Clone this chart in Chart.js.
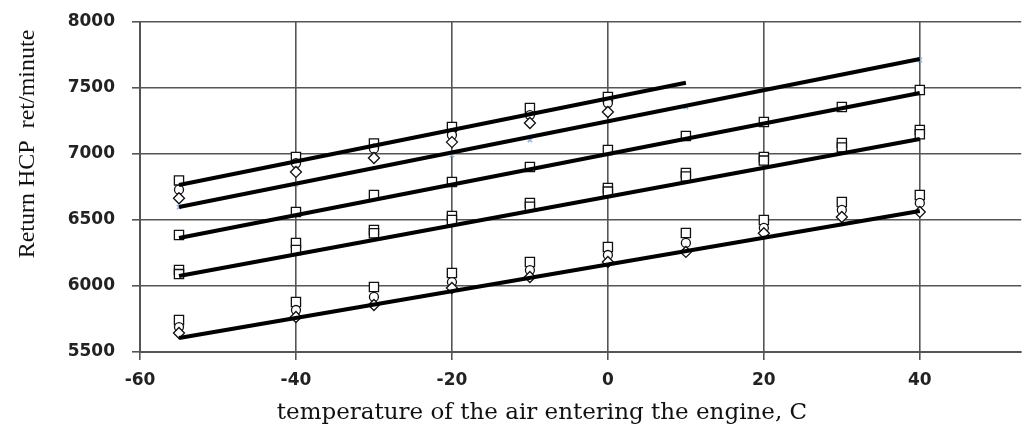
<!DOCTYPE html>
<html>
<head>
<meta charset="utf-8">
<script src="https://cdn.jsdelivr.net/npm/chart.js@4/dist/chart.umd.min.js"></script>
<style>
  html, body { margin: 0; padding: 0; background: #fff; }
  #wrap { width: 1029px; height: 427px; }
</style>
</head>
<body>
<div id="wrap"><canvas id="myChart"></canvas></div>
<script>
// temperatures where the measurements were taken
const tempX = [-55, -40, -30, -20, -10, 0, 10, 20, 30, 40];
const topX = [-55, -40, -30, -20, -10, 0];

// top group (three markers per temperature)
const topSquares = [6800, 6977, 7080, 7205, 7348, 7432];
const topCircles = [6730, 6930, 7040, 7144, 7295, 7386];
const topDiamonds = [6665, 6864, 6970, 7090, 7235, 7318];

// faint blue points on the second line
const blueX = [-55, -40, -20, -10, 10, 40];
const blueY = [6598, 6770, 6992, 7106, 7356, 7712];

// third line squares
const midSquares = [6386, 6561, 6689, 6788, 6902, 7030, 7136, 7242, 7356, 7485];

// fourth line, two squares each
const lowSquaresA = [6121, 6326, 6424, 6530, 6629, 6742, 6856, 6977, 7083, 7182];
const lowSquaresB = [6090, 6273, 6400, 6500, 6600, 6715, 6830, 6950, 7050, 7150];

// bottom group
const bottomSquares = [5742, 5879, 5992, 6098, 6182, 6295, 6402, 6500, 6636, 6689];
const bottomCircles = [5689, 5818, 5917, 6030, 6121, 6235, 6326, 6440, 6576, 6629];
const bottomDiamonds = [5644, 5765, 5856, 5985, 6068, 6182, 6258, 6400, 6523, 6561];

// fitted lines (start and end)
const fitStartX = [-55, -55, -55, -55, -55];
const fitEndX = [10, 40, 40, 40, 40];
const fitStartY = [6765, 6598, 6364, 6076, 5606];
const fitEndY = [7540, 7720, 7462, 7114, 6568];

const yTitle = 'Return HCP  ret/minute';
const xTitle = 'temperature of the air entering the engine, C';

function pts(xs, ys) {
    return xs.map((x, i) => ({x: x, y: ys[i]}));
}

function markers(xs, ys, style, r) {
    return {
        type: 'scatter',
        data: pts(xs, ys),
        pointStyle: style,
        radius: r,
        borderColor: '#111',
        backgroundColor: '#fff',
        borderWidth: 1.3,
        order: 1
    };
}

let datasets = [];
for (let i = 0; i < fitStartX.length; i++) {
    datasets.push({
        type: 'line',
        data: [{x: fitStartX[i], y: fitStartY[i]}, {x: fitEndX[i], y: fitEndY[i]}],
        borderColor: '#000',
        borderWidth: 4,
        pointRadius: 0,
        fill: false,
        order: 0
    });
}
datasets.push(markers(topX, topDiamonds, 'rectRot', 5.5));
datasets.push(markers(topX, topCircles, 'circle', 4.5));
datasets.push(markers(topX, topSquares, 'rect', 6.5));
datasets.push(markers(tempX, midSquares, 'rect', 6.5));
datasets.push(markers(tempX, lowSquaresB, 'rect', 6.5));
datasets.push(markers(tempX, lowSquaresA, 'rect', 6.5));
datasets.push(markers(tempX, bottomDiamonds, 'rectRot', 5.5));
datasets.push(markers(tempX, bottomCircles, 'circle', 4.5));
datasets.push(markers(tempX, bottomSquares, 'rect', 6.5));
datasets.push({
    type: 'scatter',
    data: pts(blueX, blueY),
    pointStyle: 'crossRot',
    radius: 3,
    borderColor: '#8fb6ea',
    borderWidth: 1.5,
    order: 2
});

// axis titles drawn next to the plot area
const axisTitles = {
    id: 'axisTitles',
    afterDraw(chart) {
        const c = chart.ctx;
        const a = chart.chartArea;
        c.save();
        c.fillStyle = '#111';
        c.textAlign = 'center';
        c.textBaseline = 'middle';
        c.font = '24px "Liberation Serif"';
        c.translate(a.left - 112, a.top + 122);
        c.rotate(-Math.PI / 2);
        c.fillText(yTitle, 0, 0);
        c.restore();
        c.save();
        c.fillStyle = '#111';
        c.textAlign = 'center';
        c.textBaseline = 'middle';
        c.font = '23px "DejaVu Serif"';
        c.fillText(xTitle, a.left + 402, 413);
        c.restore();
    }
};

const gridCol = '#555';
const tickFont = {family: 'DejaVu Sans', size: 17, weight: 'bold'};

var ctx = document.getElementById('myChart').getContext('2d');
var chart = new Chart(ctx, {
    data: {datasets: datasets},
    plugins: [axisTitles],
    options: {
        responsive: true,
        maintainAspectRatio: false,
        animation: false,
        layout: {padding: {top: 0, right: 4, left: 0, bottom: 0}},
        plugins: {legend: {display: false}, tooltip: {enabled: false}},
        scales: {
            x: {
                type: 'linear',
                min: -60,
                max: 53,
                afterFit: (s) => { s.height = 75; s.paddingLeft = 0; s.paddingRight = 0; },
                ticks: {stepSize: 20, includeBounds: false, color: '#222', font: tickFont, padding: 10,
                        callback: (v) => String(v)},
                grid: {color: gridCol, lineWidth: 1.6, tickLength: 8, tickColor: gridCol},
                border: {color: gridCol, width: 2}
            },
            y: {
                min: 5500,
                max: 8000,
                afterFit: (s) => { s.width = 140; s.paddingTop = 22; s.paddingBottom = 0; },
                ticks: {stepSize: 500, color: '#222', font: tickFont, padding: 17,
                        callback: (v) => String(v)},
                grid: {color: gridCol, lineWidth: 1.6, tickLength: 8, tickColor: gridCol},
                border: {color: gridCol, width: 2}
            }
        }
    }
});
</script>
</body>
</html>
